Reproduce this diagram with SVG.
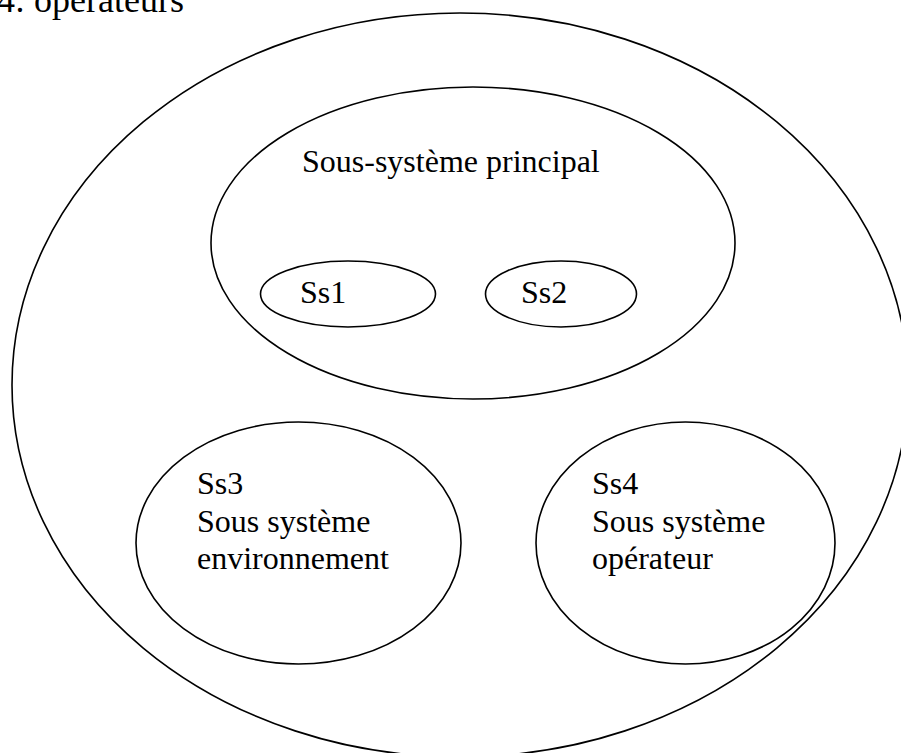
<svg xmlns="http://www.w3.org/2000/svg" width="901" height="753" viewBox="0 0 901 753">
<style>
.n{fill:none;stroke:#000;stroke-width:1.6}
.t{font-family:"Liberation Serif","Times New Roman",serif;font-size:32px;fill:#000}
</style>
<rect width="901" height="753" fill="#fff"/>
<text class="t" x="-3" y="12" style="font-size:36px">4: opérateurs</text>
<g id="outer"><ellipse class="n" cx="460" cy="385" rx="448" ry="372"/></g>
<g id="principal">
<ellipse class="n" cx="473" cy="243" rx="262" ry="156"/>
<text class="t" x="302" y="172">Sous-système principal</text>
</g>
<g id="ss1"><ellipse class="n" cx="348" cy="294" rx="87.5" ry="33"/><text class="t" x="300" y="303">Ss1</text></g>
<g id="ss2"><ellipse class="n" cx="561" cy="294" rx="75.5" ry="33"/><text class="t" x="521" y="303">Ss2</text></g>
<g id="ss3"><ellipse class="n" cx="298.5" cy="543" rx="162.5" ry="121"/>
<text class="t" x="197" y="494">Ss3</text><text class="t" x="197" y="532">Sous système</text><text class="t" x="197" y="569">environnement</text></g>
<g id="ss4"><ellipse class="n" cx="685.5" cy="543" rx="149.5" ry="121"/>
<text class="t" x="592" y="494">Ss4</text><text class="t" x="592" y="532">Sous système</text><text class="t" x="592" y="569">opérateur</text></g>
<g id="connectors"/>
</svg>
